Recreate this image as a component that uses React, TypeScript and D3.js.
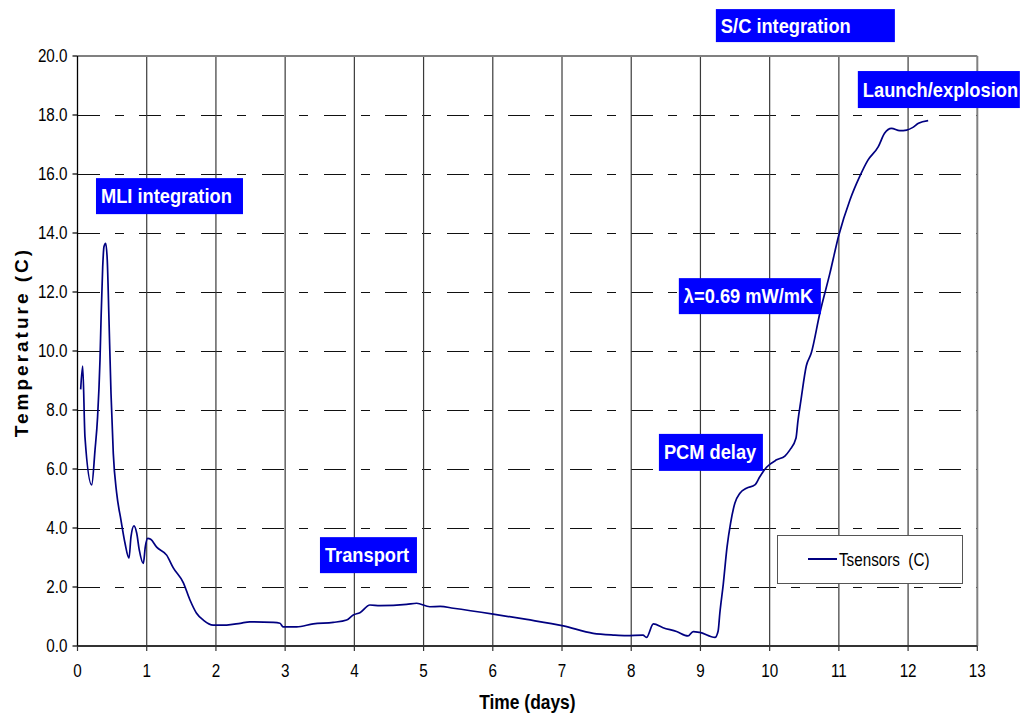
import React from 'react';
import * as d3 from 'd3';

// sensor temperature
const days = [
  0.046, 0.075, 0.108, 0.205, 0.253, 0.29, 0.325, 0.34, 0.364, 0.383, 0.407, 0.43, 0.455, 0.484,
  0.517, 0.566, 0.628, 0.686, 0.744, 0.773, 0.816, 0.855, 0.893, 0.951, 0.98, 1.014, 1.057, 1.144,
  1.288, 1.384, 1.528, 1.625, 1.72, 1.817, 1.96, 2.155, 2.35, 2.49, 2.83, 2.925, 2.97, 3.166, 3.406,
  3.695, 3.888, 3.984, 4.08, 4.225, 4.37, 4.755, 4.9, 5.09, 5.24, 5.43, 6.006, 6.49, 7.02, 7.45,
  7.74, 7.93, 8.17, 8.22, 8.32, 8.46, 8.655, 8.82, 8.895, 8.99, 9.21, 9.255, 9.28, 9.33, 9.385,
  9.435, 9.497, 9.57, 9.665, 9.786, 9.858, 9.955, 10.1, 10.22, 10.29, 10.38, 10.41, 10.45, 10.53,
  10.6, 10.725, 10.87, 11.0, 11.16, 11.3, 11.42, 11.57, 11.66, 11.76, 11.88, 11.98, 12.07, 12.15,
  12.29,
];
const tsensors = [
  8.7, 9.49, 7.08, 5.46, 6.64, 7.76, 9.7, 11.05, 12.85, 13.54, 13.65, 13.08, 11.05, 8.57,
  6.53, 5.18, 4.27, 3.49, 2.98, 3.71, 4.07, 3.83, 3.25, 2.8, 3.37, 3.65, 3.62, 3.35,
  3.08, 2.65, 2.15, 1.56, 1.11, 0.88, 0.71, 0.71, 0.77, 0.82, 0.8, 0.77, 0.65, 0.65, 0.75,
  0.8, 0.88, 1.05, 1.13, 1.39, 1.37, 1.41, 1.45, 1.33, 1.34, 1.28, 1.08, 0.9, 0.68, 0.43,
  0.37, 0.35, 0.37, 0.29, 0.75, 0.62, 0.49, 0.34, 0.49, 0.46, 0.29, 0.5, 1.11, 2.1, 3.37,
  4.16, 4.84, 5.18, 5.35, 5.46, 5.74, 6.06, 6.31, 6.44, 6.64, 7.04, 7.66, 8.3, 9.5,
  9.92, 11.28, 12.63, 13.93, 15.12, 15.91, 16.47, 16.93, 17.38, 17.55, 17.47, 17.49, 17.58, 17.72,
  17.81,
];

const xTicks = [0, 1, 2, 3, 4, 5, 6, 7, 8, 9, 10, 11, 12, 13];
const yTicks = [0, 2, 4, 6, 8, 10, 12, 14, 16, 18, 20];

const noteTexts = ['MLI integration', 'S/C integration', 'Launch/explosion', 'λ=0.69 mW/mK', 'PCM delay', 'Transport'];
// top-left corner of each label box, in data units (day, temperature)
const noteDays = [0.267, 9.223, 11.274, 8.688, 8.4, 3.503];
const noteTemps = [15.86, 21.59, 19.49, 12.47, 7.19, 3.69];
const noteWidths = [147, 179, 162, 142, 104, 97];
const noteHeights = [36, 33, 37, 36, 37, 36];

const FONT = '"Liberation Sans", Arial, sans-serif';
const SX = 0.87; // the reference text is a bit narrow

function Txt({ x, y, size, bold, anchor, fill, children }: any) {
  return (
    <g transform={`translate(${x},${y}) scale(${SX},1)`}>
      <text
        fontFamily={FONT}
        fontSize={size}
        fontWeight={bold ? 'bold' : 'normal'}
        textAnchor={anchor || 'start'}
        fill={fill || '#000'}
      >
        {children}
      </text>
    </g>
  );
}

export default function App() {
  const W = 1020;
  const H = 715;
  const left = 77.5, right = 977.3, top = 56, bottom = 646;

  const x = d3.scaleLinear().domain([0, 13]).range([left, right]);
  const y = d3.scaleLinear().domain([0, 20]).range([bottom, top]);

  const pts = days.map((d, i) => [d, tsensors[i]] as [number, number]);
  const line = d3
    .line<[number, number]>()
    .x((p) => x(p[0]))
    .y((p) => y(p[1]))
    .curve(d3.curveMonotoneX);

  return (
    <svg width={W} height={H} style={{ position: 'absolute', left: 0, top: 0, background: '#fff' }}>
      <rect x={0} y={0} width={W} height={H} fill="#fff" />

      {/* dashed horizontal grid */}
      {yTicks.filter((t) => t > 0 && t < 20).map((t) => (
        <line key={'h' + t} x1={left} x2={right} y1={y(t) + 0.5} y2={y(t) + 0.5}
          stroke="#111" strokeWidth={1} strokeDasharray="22,15,9,15.5" shapeRendering="crispEdges" />
      ))}

      {/* vertical grid */}
      {xTicks.filter((t) => t > 0 && t < 13).map((t) => (
        <line key={'v' + t} x1={x(t)} x2={x(t)} y1={top} y2={bottom} stroke="#3a3a3a" strokeWidth={1.2} />
      ))}

      {/* frame */}
      <line x1={left} x2={right} y1={top} y2={top} stroke="#808080" strokeWidth={2} />
      <line x1={right} x2={right} y1={top} y2={bottom} stroke="#808080" strokeWidth={2} />

      {/* axes */}
      <line x1={left} x2={left} y1={top} y2={bottom} stroke="#000" strokeWidth={1.3} />
      <line x1={left} x2={right} y1={bottom} y2={bottom} stroke="#333" strokeWidth={2} />
      {yTicks.map((t) => (
        <g key={'yt' + t}>
          <line x1={left - 5} x2={left} y1={y(t)} y2={y(t)} stroke="#000" strokeWidth={1.2} />
          <Txt x={left - 10} y={y(t) + 6} size={17.5} anchor="end">{t.toFixed(1)}</Txt>
        </g>
      ))}
      {xTicks.map((t) => (
        <g key={'xt' + t}>
          <line x1={x(t)} x2={x(t)} y1={bottom} y2={bottom + 5} stroke="#333" strokeWidth={1.2} />
          <Txt x={x(t)} y={677} size={17.5} anchor="middle">{t}</Txt>
        </g>
      ))}

      {/* axis titles */}
      <Txt x={(left + right) / 2} y={709} size={20} bold anchor="middle">Time (days)</Txt>
      <text
        transform={`translate(28,342) rotate(-90)`}
        fontFamily={FONT}
        fontSize={19}
        fontWeight="bold"
        letterSpacing={3}
        textAnchor="middle"
      >
        Temperature (C)
      </text>

      {/* series */}
      <path d={line(pts) || ''} fill="none" stroke="#000080" strokeWidth={1.7} />

      {/* legend */}
      <rect x={777.5} y={535.5} width={185} height={48} fill="#fff" stroke="#555" strokeWidth={1} />
      <line x1={808} x2={837} y1={559} y2={559} stroke="#000080" strokeWidth={2} />
      <Txt x={839} y={566} size={17.5}>{'Tsensors\u00a0\u00a0(C)'}</Txt>

      {/* annotation labels */}
      {noteTexts.map((s, i) => {
        const bx = x(noteDays[i]);
        const by = y(noteTemps[i]);
        return (
          <g key={'n' + i}>
            <rect x={bx} y={by} width={noteWidths[i]} height={noteHeights[i]} fill="#0000ff" />
            <Txt x={bx + 5} y={by + noteHeights[i] / 2 + 7} size={21} bold fill="#fff">{s}</Txt>
          </g>
        );
      })}
    </svg>
  );
}
